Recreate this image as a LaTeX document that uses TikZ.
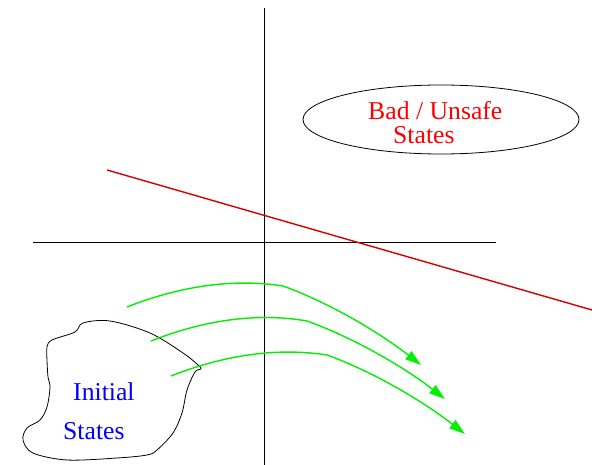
\documentclass[tikz,border=0pt]{standalone}
\usepackage{fontspec}
\setmainfont{Liberation Serif}
\usetikzlibrary{arrows.meta,shapes.geometric}
\begin{document}
\begin{tikzpicture}[x=1pt,y=-1pt,
  lbl/.style={inner sep=0pt,anchor=base west,font=\fontsize{25.7}{24}\selectfont},
  axis/.style={draw=black,line width=0.9pt},
  traj/.style={draw={rgb,255:red,0;green,240;blue,0},line width=1.4pt,
     -{Triangle[length=16pt,width=10pt]}},
  barrier/.style={draw={rgb,255:red,210;green,0;blue,0},line width=1.4pt}]
\useasboundingbox (0,0) rectangle (592,465);
% axes
\coordinate (vt) at (264,8);
\coordinate (vb) at (264,465);
\coordinate (hl) at (33,242);
\coordinate (hr) at (496,242);
\draw[axis] (vt) -- (vb);
\draw[axis] (hl) -- (hr);
% barrier
\coordinate (r1) at (107,170);
\coordinate (r2) at (592,310);
\draw[barrier] (r1) -- (r2);
% unsafe ellipse
\node[ellipse,draw=black,line width=0.8pt,minimum width=276pt,minimum height=69pt,inner sep=0pt] (bad) at (441,119.5) {};
\node[lbl,text=red] (badtxt) at (368,120) {Bad / Unsafe};
\node[lbl,text=red] (badtxt2) at (393,144) {States};
% initial blob
\draw[black,line width=0.8pt] plot[smooth cycle,tension=0.55] coordinates {
 (83,323) (110,321) (150,333) (183,353) (198,365) (201,369) (195,372)
 (187,390) (182,413) (173,433) (157,450) (147,455) (117,458) (67,460)
 (33,453) (23,440) (27,428) (40,420) (47,407) (50,387) (48,377)
 (47,360) (47,347) (52,340) (75,332)};
\node[lbl,text=blue] (init1) at (73,400) {Initial};
\node[lbl,text=blue] (init2) at (63,439) {States};
% trajectories
\coordinate (a0) at (127,307); \coordinate (a1) at (283,286); \coordinate (a2) at (421,365);
\coordinate (b0) at (151,341); \coordinate (b1) at (307,321); \coordinate (b2) at (445,399);
\coordinate (c0) at (171,376); \coordinate (c1) at (327,355); \coordinate (c2) at (465,434);
\draw[traj] (a0) .. controls (170,290) and (225,277) .. (a1)
  .. controls (330,303) and (380,333) .. (a2);
\draw[traj] (b0) .. controls (194,324) and (249,311) .. (b1)
  .. controls (354,338) and (404,367) .. (b2);
\draw[traj] (c0) .. controls (214,359) and (269,346) .. (c1)
  .. controls (374,372) and (424,402) .. (c2);
\end{tikzpicture}
\end{document}
